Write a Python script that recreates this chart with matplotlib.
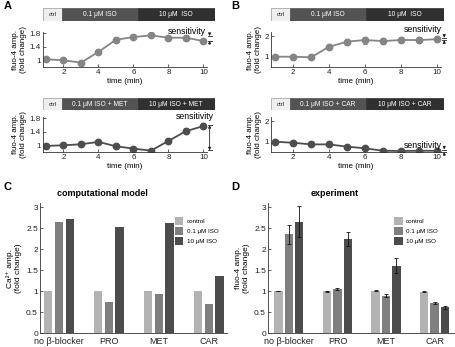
import matplotlib
matplotlib.use("Agg")
import matplotlib.pyplot as plt
from matplotlib.patches import Rectangle
import numpy as np

plt.rcParams['font.family'] = ['Liberation Sans', 'DejaVu Sans']

W, H = 456, 347

# ---------------- data ----------------
time_min = [1, 2, 3, 4, 5, 6, 7, 8, 9, 10]

a_iso = [1.03, 1.00, 0.93, 1.25, 1.61, 1.69, 1.74, 1.67, 1.67, 1.57]
a_iso_err = [0.03, 0.03, 0.03, 0.03, 0.03, 0.03, 0.03, 0.04, 0.05, 0.06]
a_met = [0.98, 1.00, 1.03, 1.10, 0.97, 0.90, 0.84, 1.13, 1.42, 1.57]
a_met_err = [0.03, 0.03, 0.03, 0.03, 0.03, 0.03, 0.02, 0.05, 0.09, 0.10]

b_iso = [1.00, 1.00, 0.97, 1.48, 1.73, 1.81, 1.76, 1.81, 1.81, 1.85]
b_iso_err = [0.04, 0.05, 0.05, 0.12, 0.15, 0.17, 0.16, 0.15, 0.15, 0.14]
b_car = [1.00, 0.95, 0.87, 0.87, 0.76, 0.68, 0.56, 0.55, 0.56, 0.56]
b_car_err = [0.03, 0.03, 0.03, 0.03, 0.03, 0.03, 0.03, 0.03, 0.03, 0.03]

groups = ['no β-blocker', 'PRO', 'MET', 'CAR']
series = ['control', '0.1 μM ISO', '10 μM ISO']

model_control = [1.00, 1.00, 1.00, 1.00]
model_iso01 = [2.65, 0.73, 0.93, 0.70]
model_iso10 = [2.73, 2.52, 2.62, 1.35]

exp_control = [1.00, 0.99, 1.01, 0.98]
exp_control_err = [0.01, 0.01, 0.01, 0.01]
exp_iso01 = [2.35, 1.05, 0.89, 0.71]
exp_iso01_err = [0.23, 0.03, 0.04, 0.03]
exp_iso10 = [2.65, 2.25, 1.60, 0.61]
exp_iso10_err = [0.37, 0.17, 0.18, 0.04]

# ---------------- helpers ----------------
fig = plt.figure(figsize=(W / 100, H / 100), dpi=100)


def rect(x0, y0, x1, y1):
    return [x0 / W, 1 - y1 / H, (x1 - x0) / W, (y1 - y0) / H]


def header(box, labels, splits=(0.11, 0.55)):
    ax = fig.add_axes(box)
    ax.set_xlim(0, 1)
    ax.set_ylim(0, 1)
    ax.axis('off')
    cols = ['#efefef', '#535353', '#303030']
    edges = [0, splits[0], splits[1], 1]
    for i in range(3):
        ax.add_patch(Rectangle((edges[i], 0), edges[i + 1] - edges[i], 1,
                               facecolor=cols[i], edgecolor='#9a9a9a' if i == 0 else cols[i],
                               lw=0.5))
        ax.text((edges[i] + edges[i + 1]) / 2, 0.5, labels[i],
                color='#222222' if i == 0 else 'white',
                fontsize=4.3 if i == 0 else 4.8,
                ha='center', va='center')


def style(ax, fs=5.8):
    for s in ['top', 'right']:
        ax.spines[s].set_visible(False)
    for s in ['left', 'bottom']:
        ax.spines[s].set_linewidth(0.6)
        ax.spines[s].set_color('#333333')
    ax.tick_params(direction='in', length=2, width=0.5, labelsize=fs, pad=1.5,
                   colors='#222222')


def line_panel(box, y, err, color, ylim, yticks, yticklabels, xlim):
    ax = fig.add_axes(box)
    ax.errorbar(time_min, y, yerr=err, color=color, marker='o', ms=4.6,
                lw=1.3, elinewidth=1.0, capsize=1.3, capthick=0.8)
    ax.set_xlim(*xlim)
    ax.set_ylim(*ylim)
    ax.set_xticks([2, 4, 6, 8, 10])
    ax.set_yticks(yticks)
    ax.set_yticklabels(yticklabels)
    style(ax)
    ax.set_xlabel('time (min)', fontsize=5.8, labelpad=1.5)
    ax.set_ylabel('fluo-4 amp.\n(fold change)', fontsize=5.8, labelpad=2, linespacing=1.1)
    ax.patch.set_alpha(0)
    return ax


def sens(ax, x, y_hi, y_lo, inside):
    kw = dict(clip_on=False, color='#222222', lw=0.6)
    ax.plot([x - 0.12, x + 0.12], [y_hi, y_hi], **kw)
    ax.plot([x - 0.12, x + 0.12], [y_lo, y_lo], **kw)
    if inside:
        ax.annotate('', xy=(x, y_hi), xytext=(x, y_lo),
                    arrowprops=dict(arrowstyle='<|-|>', lw=0.6, color='#222222',
                                    mutation_scale=4, shrinkA=0, shrinkB=0),
                    annotation_clip=False)
    else:
        d = 0.06 * (ax.get_ylim()[1] - ax.get_ylim()[0])
        ax.annotate('', xy=(x, y_hi), xytext=(x, y_hi + 1.6 * d),
                    arrowprops=dict(arrowstyle='-|>', lw=0.6, color='#222222',
                                    mutation_scale=4, shrinkA=0, shrinkB=0),
                    annotation_clip=False)
        ax.annotate('', xy=(x, y_lo), xytext=(x, y_lo - 1.6 * d),
                    arrowprops=dict(arrowstyle='-|>', lw=0.6, color='#222222',
                                    mutation_scale=4, shrinkA=0, shrinkB=0),
                    annotation_clip=False)


light = '#858585'
dark = '#4d4d4d'

# ---------------- panel A ----------------
header(rect(43, 8, 215, 21), ['ctrl', '0.1 μM ISO', '10 μM  ISO'])
axA1 = line_panel(rect(43, 32, 207, 67), a_iso, a_iso_err, light,
                  (0.8, 1.84), [1, 1.4, 1.8], ['1', '1.4', '1.8'], (0.83, 10.2))
axA1.text(10.15, 1.86, 'sensitivity', fontsize=6.3, ha='right', va='center')
sens(axA1, 10.35, 1.72, 1.58, inside=False)

header(rect(43, 98, 215, 110), ['ctrl', '0.1 μM ISO + MET', '10 μM ISO + MET'])
axA2 = line_panel(rect(43, 117, 207, 152), a_met, a_met_err, dark,
                  (0.8, 1.84), [1, 1.4, 1.8], ['1', '1.4', '1.8'], (0.83, 10.2))
axA2.text(10.6, 1.84, 'sensitivity', fontsize=6.3, ha='right', va='center')
sens(axA2, 10.35, 1.6, 0.85, inside=True)

# ---------------- panel B ----------------
header(rect(271, 8, 444, 21), ['ctrl', '0.1 μM ISO', '10 μM  ISO'])
axB1 = line_panel(rect(271, 32, 441, 67), b_iso, b_iso_err, light,
                  (0.5, 2.2), [1, 2], ['1', '2'], (0.78, 10.22))
axB1.text(10.25, 2.3, 'sensitivity', fontsize=6.3, ha='right', va='center')
sens(axB1, 10.4, 1.92, 1.8, inside=False)

header(rect(271, 98, 444, 110), ['ctrl', '0.1 μM ISO + CAR', '10 μM ISO + CAR'])
axB2 = line_panel(rect(271, 117, 441, 152), b_car, b_car_err, dark,
                  (0.5, 2.2), [1, 2], ['1', '2'], (0.78, 10.22))
axB2.text(10.25, 0.8, 'sensitivity', fontsize=6.3, ha='right', va='center')
sens(axB2, 10.4, 0.62, 0.5, inside=False)

# ---------------- panels C, D ----------------
bar_cols = ['#b3b3b3', '#7f7f7f', '#4c4c4c']
xg = np.arange(1, len(groups) + 1)
bw = 0.17
off = 0.215


def bar_panel(box, vals, errs, xlim, ylabel, leg_x):
    ax = fig.add_axes(box)
    for i, (v, c) in enumerate(zip(vals, bar_cols)):
        kw = {}
        if errs is not None:
            kw = dict(yerr=errs[i], error_kw=dict(elinewidth=0.6, capsize=1.5,
                                                   capthick=0.6, ecolor='#111111'))
        ax.bar(xg + (i - 1) * off, v, width=bw, color=c, edgecolor='none',
               label=series[i], **kw)
    ax.set_xlim(*xlim)
    ax.set_ylim(0, 3.1)
    ax.set_yticks([0, 0.5, 1, 1.5, 2, 2.5, 3])
    ax.set_yticklabels(['0', '0.5', '1', '1.5', '2', '2.5', '3'])
    ax.set_xticks(xg)
    ax.set_xticklabels(groups)
    style(ax, fs=6)
    ax.tick_params(axis='x', labelsize=6.5, length=0, pad=3)
    ax.set_ylabel(ylabel, fontsize=6, labelpad=3, linespacing=1.1)
    ax.legend(loc='upper left', bbox_to_anchor=(leg_x, 0.89), fontsize=4.5,
              frameon=False, handlelength=1.4, handleheight=1.6,
              handletextpad=0.5, labelspacing=0.3, borderaxespad=0, borderpad=0)
    return ax


axC = bar_panel(rect(40, 203, 227, 333), [model_control, model_iso01, model_iso10],
                None, (0.62, 4.36), 'Ca²⁺ amp.\n(fold change)', 0.72)
axD = bar_panel(rect(268, 203, 455, 333), [exp_control, exp_iso01, exp_iso10],
                [exp_control_err, exp_iso01_err, exp_iso10_err], (0.57, 4.42),
                'fluo-4 amp.\n(fold change)', 0.675)

fig.text(102 / W, 1 - 193 / H, 'computational model', fontsize=6.5,
         fontweight='bold', ha='center', va='center')
fig.text(335 / W, 1 - 193 / H, 'experiment', fontsize=6.5,
         fontweight='bold', ha='center', va='center')

# panel letters
for lab, (px, py) in {'A': (4, 6), 'B': (231, 6), 'C': (4, 187), 'D': (231, 187)}.items():
    fig.text(px / W, 1 - py / H, lab, fontsize=8, fontweight='bold',
             ha='left', va='center')

fig.savefig('out.png', dpi=100)
